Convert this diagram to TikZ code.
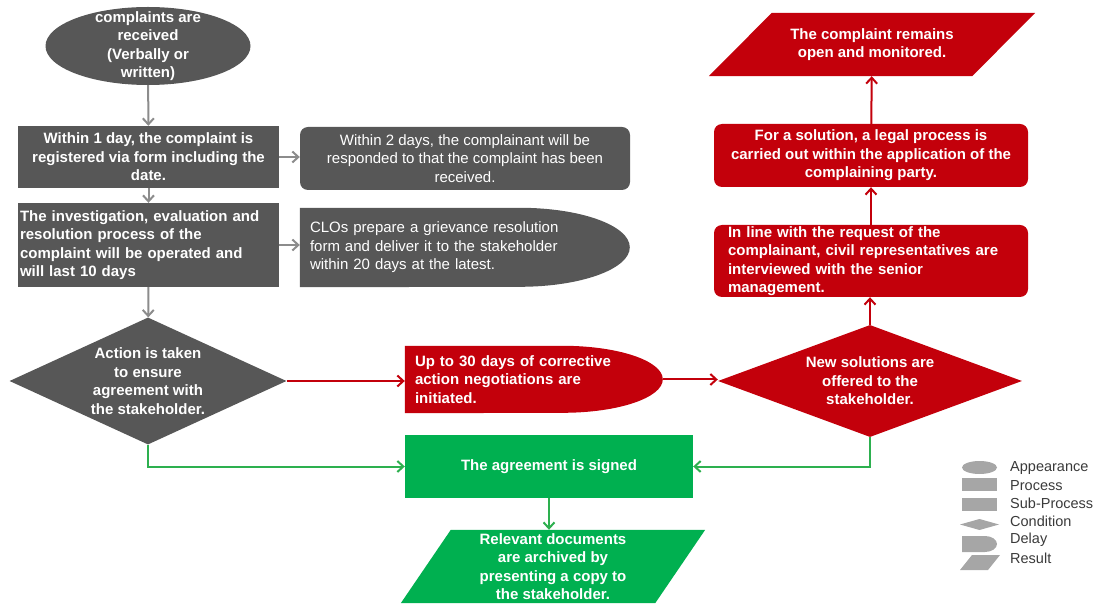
\documentclass[tikz,border=0pt]{standalone}
\usepackage{fontspec}
\setmainfont{Liberation Sans}
\usetikzlibrary{
  arrows.meta, positioning, shapes.geometric, calc, backgrounds
}

\definecolor{cgrey}{HTML}{575757}
\definecolor{cgreyline}{HTML}{8C8C8C}
\definecolor{cred}{HTML}{C3000B}
\definecolor{cgreen}{HTML}{00B050}
\definecolor{cgreenline}{HTML}{2DB04F}
\definecolor{clegend}{HTML}{A6A6A6}
\definecolor{clegtext}{HTML}{3A3A3A}

\begin{document}
\begin{tikzpicture}[x=1pt, y=1pt,
  base/.style={inner sep=0pt, text=white,
               font=\fontsize{15}{18.5}\selectfont\bfseries},
  plain/.style={font=\fontsize{15}{18.5}\selectfont},
  proc/.style={base, rectangle, fill=cgrey, minimum width=261},
  sub/.style={base, rectangle, rounded corners=8pt, align=center},
  delaybox/.style={base, rectangle, align=left},
  cond/.style={base, diamond, align=center},
  result/.style={base, rectangle, align=center},
  legtext/.style={anchor=west, inner sep=0pt, text=clegtext,
                  font=\fontsize{14.5}{17}\selectfont},
  arrow/.style={-{Straight Barb[length=6pt,width=11pt]}, line width=2pt},
]
\useasboundingbox (0,0) rectangle (1098,603);

\node[base, ellipse, fill=cgrey, minimum width=205, minimum height=78,
      inner ysep=-8pt, align=center] (recv) at (148,557)
  {complaints are\\received\\(Verbally or\\written)};

\node[proc, minimum height=62, align=center] (reg) at (148.5,446)
  {Within 1 day, the complaint is\\registered via form including the\\date.};

\node[sub, plain, fill=cgrey, minimum width=330, minimum height=63] (resp) at (465,444.5)
  {Within 2 days, the complainant will be\\responded to that the complaint has been\\received.};

\node[proc, minimum height=84, text width=257, inner xsep=2pt, align=left] (invest) at (148.5,358)
  {The investigation, evaluation and\\resolution process of the\\complaint will be operated and\\will last 10 days};

\node[delaybox, plain, text width=310, inner xsep=10pt, minimum height=79] (clo) at (465,355.5)
  {CLOs prepare a grievance resolution\\form and deliver it to the stakeholder\\within 20 days at the latest.};

\node[cond, fill=cgrey, minimum width=277, minimum height=127, aspect=2.2] (act) at (148,222)
  {Action is taken\\to ensure\\agreement with\\the stakeholder.};

\node[delaybox, text width=238, inner xsep=10pt, minimum height=67] (nego) at (534,223.5)
  {Up to 30 days of corrective\\action negotiations are\\initiated.};

\node[cond, fill=cred, minimum width=304, minimum height=112, aspect=2.7] (newsol) at (870,222)
  {New solutions are\\offered to the\\stakeholder.};

\node[sub, fill=cred, text width=286, inner xsep=14pt, minimum height=72, align=left] (civil) at (871,342)
  {In line with the request of the\\complainant, civil representatives are\\interviewed with the senior\\management.};

\node[sub, fill=cred, minimum width=314, minimum height=63] (legal) at (871,447.5)
  {For a solution, a legal process is\\carried out within the application of the\\complaining party.};

\node[result, minimum width=326, minimum height=63] (open) at (872,558.5)
  {The complaint remains\\open and monitored.};

\node[base, rectangle, fill=cgreen, minimum width=288, minimum height=63] (signed) at (549,136.5)
  {The agreement is signed};

\node[result, minimum width=304, minimum height=73] (archive) at (553,36.5)
  {Relevant documents\\are archived by\\presenting a copy to\\the stakeholder.};

% ---- shapes behind the texts ----
\begin{scope}[on background layer]
  \fill[cgrey] (clo.north west) -- ++(220,0)
    arc[start angle=90, end angle=-90, x radius=110, y radius=39.5]
    -- (clo.south west) -- cycle;
  \fill[cred] (nego.north west) -- ++(158,0)
    arc[start angle=90, end angle=-90, x radius=100, y radius=33.5]
    -- (nego.south west) -- cycle;
  \fill[cred] (open.south west) -- ($(open.north west)+(63,0)$)
    -- (open.north east) -- ($(open.south east)+(-63,0)$) -- cycle;
  \fill[cgreen] (archive.south west) -- ($(archive.north west)+(50,0)$)
    -- (archive.north east) -- ($(archive.south east)+(-50,0)$) -- cycle;
\end{scope}

% ---- connectors ----
\draw[arrow, cgreyline] (recv) -- (reg);
\draw[arrow, cgreyline] (reg.east) -- (reg.east -| resp.west);
\draw[arrow, cgreyline] (reg) -- (invest);
\draw[arrow, cgreyline] (invest.east) -- (invest.east -| clo.west);
\draw[arrow, cgreyline] (invest) -- (act);
\draw[arrow, cred] (act.east) -- (act.east -| nego.west);
\draw[arrow, cred] (nego.east) -- (nego.east -| newsol.west);
\draw[arrow, cred] (newsol.north) -- (newsol.north |- civil.south);
\draw[arrow, cred] (civil) -- (legal);
\draw[arrow, cred] (legal) -- (open);
\draw[arrow, cgreenline] (act.south) |- (signed.west);
\draw[arrow, cgreenline] (newsol.south) |- (signed.east);
\draw[arrow, cgreenline] (signed.south) -- (signed.south |- archive.north);

% ---- legend ----
\fill[clegend] (979.5,135.5) ellipse [x radius=17.5, y radius=6.5];
\fill[clegend] (962,112) rectangle (997,125);
\fill[clegend] (962,92) rectangle (997,105);
\fill[clegend] (960,78.5) -- (979.5,84) -- (999,78.5) -- (979.5,73) -- cycle;
\fill[clegend] (962,67) -- (985,67)
  arc[start angle=90, end angle=-90, x radius=12, y radius=8] -- (962,51) -- cycle;
\fill[clegend] (960,33) -- (972,48) -- (1000,48) -- (988,33) -- cycle;

\node[legtext] (lgappear) at (1010,135) {Appearance};
\node[legtext] (lgproc)   at (1010,117) {Process};
\node[legtext] (lgsub)    at (1010,100) {Sub-Process};
\node[legtext] (lgcond)   at (1010,82)  {Condition};
\node[legtext] (lgdelay)  at (1010,63)  {Delay};
\node[legtext] (lgres)    at (1010,45)  {Result};

\end{tikzpicture}
\end{document}
